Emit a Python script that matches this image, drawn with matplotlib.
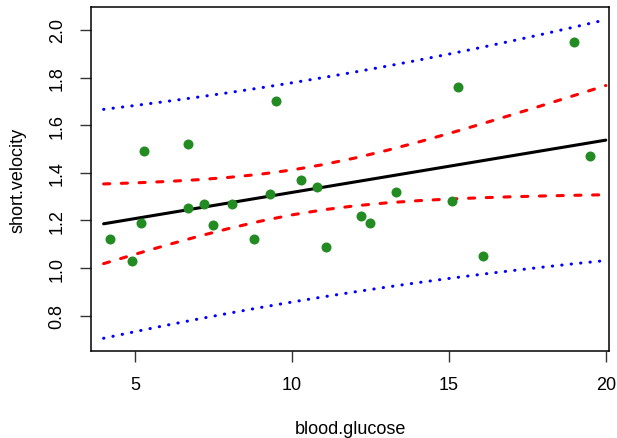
import numpy as np
import matplotlib
matplotlib.use("Agg")
import matplotlib.pyplot as plt

plt.rcParams['font.family'] = ['Liberation Sans', 'DejaVu Sans']

# thuesen data (complete cases)
blood_glucose = [15.3, 10.8, 8.1, 19.5, 7.2, 5.3, 9.3, 11.1, 7.5, 12.2, 6.7, 5.2,
                 19.0, 15.1, 6.7, 4.2, 10.3, 12.5, 16.1, 13.3, 4.9, 8.8, 9.5]
short_velocity = [1.76, 1.34, 1.27, 1.47, 1.27, 1.49, 1.31, 1.09, 1.18, 1.22, 1.25, 1.19,
                  1.95, 1.28, 1.52, 1.12, 1.37, 1.19, 1.05, 1.32, 1.03, 1.12, 1.70]
pred_glucose = list(range(4, 21))
x_ticks = [5, 10, 15, 20]
y_ticks = [0.8, 1.0, 1.2, 1.4, 1.6, 1.8, 2.0]

# simple linear regression with confidence and prediction bands
x = np.array(blood_glucose)
y = np.array(short_velocity)
n = len(x)
xbar = x.mean()
sxx = np.sum((x - xbar) ** 2)
slope = np.sum((x - xbar) * (y - y.mean())) / sxx
intercept = y.mean() - slope * xbar
resid = y - (intercept + slope * x)
s = np.sqrt(np.sum(resid ** 2) / (n - 2))
t975 = 2.079614  # qt(0.975, df = 21)

xp = np.array(pred_glucose, dtype=float)
fit = intercept + slope * xp
se_fit = s * np.sqrt(1 / n + (xp - xbar) ** 2 / sxx)
se_pred = s * np.sqrt(1 + 1 / n + (xp - xbar) ** 2 / sxx)
conf_lo, conf_hi = fit - t975 * se_fit, fit + t975 * se_fit
pred_lo, pred_hi = fit - t975 * se_pred, fit + t975 * se_pred

W, H = 617, 439
fig = plt.figure(figsize=(W / 100, H / 100), dpi=100)
ax = fig.add_axes([90.7 / W, 1 - 352 / H, (609.3 - 90.7) / W, (352 - 8) / H])

# axis ranges as in R: data range padded by 4%
xr = (min(blood_glucose), max(blood_glucose))
yvals = np.concatenate([y, pred_lo, pred_hi, conf_lo, conf_hi])
yr = (yvals.min(), yvals.max())
ax.set_xlim(xr[0] - 0.04 * (xr[1] - xr[0]), xr[1] + 0.04 * (xr[1] - xr[0]))
ax.set_ylim(yr[0] - 0.04 * (yr[1] - yr[0]), yr[1] + 0.04 * (yr[1] - yr[0]))

lw = 2.2
ax.plot(xp, fit, color='black', lw=lw, solid_capstyle='round')
for band in (conf_lo, conf_hi):
    ax.plot(xp, band, color='red', lw=lw, dashes=(2, 3.8), dash_capstyle='round')
for band in (pred_lo, pred_hi):
    ax.plot(xp, band, color='blue', lw=lw, dashes=(0.1, 3.0), dash_capstyle='round')

ax.plot(blood_glucose, short_velocity, 'o', color='#228B22', markersize=7.2,
        markeredgewidth=0, zorder=3)

ax.set_xticks(x_ticks)
ax.set_xticklabels([str(v) for v in x_ticks])
ax.set_yticks(y_ticks)
ax.set_yticklabels([f"{v:.1f}" for v in y_ticks], rotation=90, va='center')
ax.tick_params(axis='both', direction='out', length=8, width=1, labelsize=13,
               color='#333333')
ax.tick_params(axis='x', pad=10)
ax.tick_params(axis='y', pad=10)
for sp in ax.spines.values():
    sp.set_linewidth(1.1)
    sp.set_color('black')

fig.text(350 / W, 1 - 434 / H, 'blood.glucose', ha='center', va='baseline', fontsize=13)
fig.text(23 / W, 1 - 180 / H, 'short.velocity', ha='center', va='baseline',
         rotation=90, fontsize=13, rotation_mode='anchor')

fig.savefig('out.png', dpi=100)
